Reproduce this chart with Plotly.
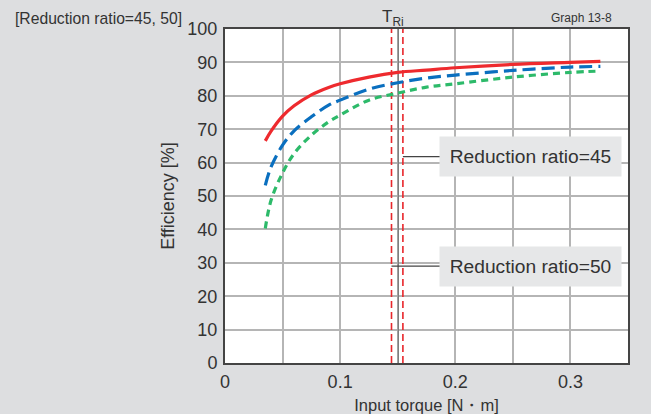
import plotly.graph_objects as go

# ---- data ----
torque = [0.035, 0.04, 0.05, 0.06, 0.075, 0.09, 0.1, 0.125, 0.15, 0.175, 0.2, 0.25, 0.3, 0.326]
eff_red = [66.5, 69.4, 73.9, 77.0, 80.3, 82.5, 83.6, 85.6, 87.0, 87.7, 88.4, 89.4, 90.0, 90.3]
eff_blue = [53.2, 58.7, 65.2, 69.5, 73.7, 77.2, 78.7, 82.0, 83.9, 85.3, 86.2, 87.6, 88.6, 88.8]
eff_green = [40.3, 48.7, 56.9, 62.7, 68.2, 72.2, 74.2, 78.7, 80.8, 82.6, 83.6, 85.6, 87.0, 87.4]

tri_lines = [0.1446, 0.1545]   # rated torque band (red dashed)
tri_center = 0.1505            # gray solid line
y_span = [0, 100]

x_tickvals = [0, 0.05, 0.1, 0.15, 0.2, 0.25, 0.3, 0.35]
x_ticktext = ["0", "", "0.1", "", "0.2", "", "0.3", ""]
y_tickvals = [0, 10, 20, 30, 40, 50, 60, 70, 80, 90, 100]

labels = ["Reduction ratio=45", "Reduction ratio=50"]
label_y = [61.8, 29.0]
leader_x0 = [0.1545, 0.1446]
label_box_left = 0.187
label_center_x = 0.265

FONT = "Liberation Sans, Arial, sans-serif"
BG = "#dddee0"

fig = go.Figure()

# vertical lines
for xv in tri_lines:
    fig.add_trace(go.Scatter(x=[xv, xv], y=y_span, mode="lines",
                             line=dict(color="#e8262b", width=1.6, dash="7px,4px"),
                             hoverinfo="skip", showlegend=False))
fig.add_trace(go.Scatter(x=[tri_center, tri_center], y=y_span, mode="lines",
                         line=dict(color="#777777", width=1.2),
                         hoverinfo="skip", showlegend=False))

# leader lines
for x0, yv in zip(leader_x0, label_y):
    fig.add_trace(go.Scatter(x=[x0, label_box_left], y=[yv, yv], mode="lines",
                             line=dict(color="#444444", width=1.2),
                             hoverinfo="skip", showlegend=False))

# curves
fig.add_trace(go.Scatter(x=torque, y=eff_green, mode="lines", line_shape="spline",
                         line=dict(color="#2dba6a", width=3.2, dash="7px,5px"), showlegend=False))
fig.add_trace(go.Scatter(x=torque, y=eff_blue, mode="lines", line_shape="spline",
                         line=dict(color="#0a6fbf", width=3.2, dash="13px,6px"), showlegend=False))
fig.add_trace(go.Scatter(x=torque, y=eff_red, mode="lines", line_shape="spline",
                         line=dict(color="#ee2a2e", width=3.2), showlegend=False))

# label boxes
for txt, yv in zip(labels, label_y):
    fig.add_annotation(x=label_center_x, y=yv, xref="x", yref="y", text=txt,
                       showarrow=False, width=179, height=37, bgcolor="#e6e7e8",
                       font=dict(family=FONT, size=19.2, color="#333333"))

# top texts
fig.add_annotation(x=-0.525, y=1.032, xref="paper", yref="paper", xanchor="left", yanchor="middle",
                   text="[Reduction ratio=45, 50]", showarrow=False,
                   font=dict(family=FONT, size=15.7, color="#333333"))
fig.add_annotation(x=0.965, y=1.032, xref="paper", yref="paper", xanchor="right", yanchor="middle",
                   text="Graph 13-8", showarrow=False,
                   font=dict(family=FONT, size=12, color="#333333"))
fig.add_annotation(x=0.1455, y=1.032, xref="x", yref="paper", xanchor="center", yanchor="middle",
                   text="T<sub>Ri</sub>", showarrow=False,
                   font=dict(family=FONT, size=17, color="#333333"))

fig.update_layout(
    width=651, height=414,
    margin=dict(l=225, r=23, t=29, b=51),
    paper_bgcolor=BG, plot_bgcolor="white",
    font=dict(family=FONT, color="#333333"),
    xaxis=dict(range=[0, 0.35], tickvals=x_tickvals, ticktext=x_ticktext,
               automargin=False,
               showgrid=True, gridcolor="#b5b5b5", gridwidth=1.5,
               showline=True, linecolor="#444444", linewidth=2, mirror=True,
               zeroline=False, ticks="", tickfont=dict(size=18), ticklabelstandoff=1,
               title=dict(text="Input torque [N・m]", font=dict(size=16.5), standoff=14)),
    yaxis=dict(range=[0, 100], tickvals=y_tickvals,
               automargin=False,
               showgrid=True, gridcolor="#b5b5b5", gridwidth=1.5,
               showline=True, linecolor="#444444", linewidth=2, mirror=True,
               zeroline=False, ticks="", tickfont=dict(size=18), ticklabelstandoff=2,
               title=dict(text="Efficiency [%]", font=dict(size=18), standoff=8)),
)

fig.write_html(
    "out.html",
    config={"displayModeBar": False},
    post_script="document.body.style.margin='0';document.body.style.background='" + BG + "';",
)
